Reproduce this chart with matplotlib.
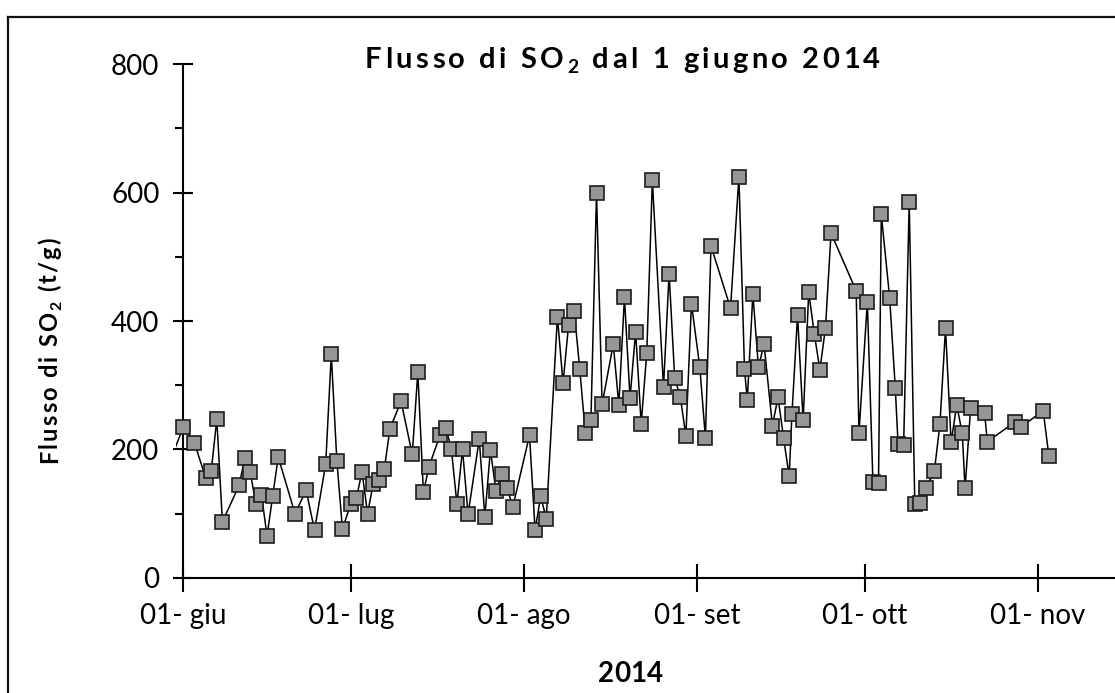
import numpy as np
import pandas as pd
import matplotlib
matplotlib.use("Agg")
import matplotlib.pyplot as plt
import matplotlib.dates as mdates
from matplotlib.font_manager import FontProperties

# ---------------- data (days since 1 June 2014, SO2 flux t/g) ----------------
days = [-2, 0, 2, 4, 5, 6, 7, 10, 11, 12, 13, 14, 15, 16, 17, 20, 22, 23.5, 25.5,
        26.5, 27.5, 28.5, 30, 31, 32, 33, 34, 35, 36, 37, 39, 41, 42, 43, 44, 46,
        47, 48, 49, 50, 51, 53, 54, 55, 56, 57, 58, 59, 62, 63, 64, 65, 67, 68,
        69, 70, 71, 72, 73, 74, 75, 77, 78, 79, 80, 81, 82, 83, 84, 86, 87, 88,
        89, 90, 91, 92.5, 93.5, 94.5, 98, 99.5, 100.5, 101, 102, 103, 104, 105.5,
        106.5, 107.5, 108.5, 109, 110, 111, 112, 113, 114, 115, 116, 120.5, 121,
        122.5, 123.5, 124.5, 125, 126.5, 127.5, 128, 129, 130, 131, 132, 133,
        134.5, 135.5, 136.5, 137.5, 138.5, 139.5, 140, 141, 143.5, 144, 149, 150,
        154, 155]
flux = [190, 235, 210, 156, 166, 247, 87, 144, 186, 164, 115, 129, 65, 127, 188,
        100, 136, 74, 177, 348, 182, 76, 115, 124, 165, 100, 146, 152, 169, 232,
        275, 192, 320, 133, 173, 223, 234, 201, 115, 200, 99, 216, 95, 199, 135,
        161, 140, 110, 222, 74, 127, 92, 407, 303, 394, 416, 325, 225, 245, 600,
        270, 364, 269, 437, 280, 383, 240, 350, 619, 297, 474, 311, 282, 221, 427,
        328, 218, 517, 420, 625, 325, 277, 442, 328, 364, 237, 281, 218, 158, 255,
        409, 245, 445, 380, 324, 389, 537, 447, 225, 430, 149, 148, 566, 436, 296,
        209, 206, 586, 115, 117, 140, 166, 239, 389, 211, 269, 225, 139, 265, 256,
        212, 243, 235, 260, 190]

start_date = "2014-06-01"
tick_dates = ["2014-06-01", "2014-07-01", "2014-08-01", "2014-09-01",
              "2014-10-01", "2014-11-01"]
tick_labels = ["01- giu", "01- lug", "01- ago", "01- set", "01- ott", "01- nov"]
y_major = [0, 200, 400, 600, 800]
y_minor = [100, 300, 500, 700]
title_parts = [("Flusso di SO", False), ("2", True), (" dal 1 giugno 2014", False)]
ylabel_parts = [("Flusso di SO", False), ("2", True), (" (t/g)", False)]
xlabel_parts = [("2014", False)]

# ---------------- figure ----------------
W, H = 1115, 693
fig = plt.figure(figsize=(W / 100, H / 100), dpi=100)
fig.patch.set_facecolor("white")

FONT = "Lato"
x0 = mdates.date2num(pd.Timestamp(start_date))
px_per_day = 5.584
axis_px = 183.3
left_days, right_days = -1.3, 170
ax_left = axis_px + left_days * px_per_day
ax_right = axis_px + right_days * px_per_day
y_bottom_px, y_top_px = 577.7, 64.3
ax = fig.add_axes([ax_left / W, (H - y_bottom_px) / H,
                   (ax_right - ax_left) / W, (y_bottom_px - y_top_px) / H])
ax.set_xlim(x0 + left_days, x0 + right_days)
ax.set_ylim(0, 800)

dates = pd.Timestamp(start_date) + pd.to_timedelta(days, unit="D")
xd = mdates.date2num(dates)
fl = np.array(flux, dtype=float)
ax.plot(xd, fl, "-", color="black", lw=1.1, zorder=2, clip_on=True)
vis = np.array(days) >= 0
ax.plot(xd[vis], fl[vis], "s", ms=9.6, mfc="#969696", mec="#1c1c1c", mew=1.2,
        ls="none", zorder=3, clip_on=False)

for s in ["top", "right"]:
    ax.spines[s].set_visible(False)
ax.spines["left"].set_position(("data", x0))
ax.spines["bottom"].set_bounds(x0, x0 + right_days)
for s in ["left", "bottom"]:
    ax.spines[s].set_linewidth(1.5)
    ax.spines[s].set_color("black")

ax.set_xticks(mdates.date2num(pd.to_datetime(tick_dates)))
ax.set_xticklabels(tick_labels)
ax.set_yticks(y_major)
ax.set_yticks(y_minor, minor=True)
ax.xaxis.set_minor_locator(matplotlib.ticker.NullLocator())
ax.tick_params(axis="x", which="major", direction="inout", length=20, width=1.5,
               pad=8, labelsize=20)
ax.tick_params(axis="y", which="major", direction="inout", length=14.4, width=1.5,
               pad=10, labelsize=20)
ax.tick_params(axis="y", which="minor", direction="out", length=5.8, width=1.5)
for lab in ax.get_xticklabels() + ax.get_yticklabels():
    lab.set_fontfamily(FONT)

# ---------------- frame (chart border, cropped on right/bottom) ----------------
fig.add_artist(plt.Line2D([8.3 / W, 8.3 / W], [0, 1 - 16.7 / H],
                          transform=fig.transFigure, color="#111", lw=1.6))
fig.add_artist(plt.Line2D([8.3 / W, 1.0], [1 - 16.7 / H, 1 - 16.7 / H],
                          transform=fig.transFigure, color="#111", lw=1.6))

# ---------------- tracked text helper ----------------
renderer = fig.canvas.get_renderer()


def adv(ch, prop):
    w1, _, _ = renderer.get_text_width_height_descent("H" + ch + "H", prop, ismath=False)
    w0, _, _ = renderer.get_text_width_height_descent("HH", prop, ismath=False)
    return w1 - w0


def tracked(parts, start_px, base_px, size, target_len, rotation=0, weight="bold"):
    items = []
    for txt, sub in parts:
        sz = size * 0.66 if sub else size
        prop = FontProperties(family=FONT, weight=weight, size=sz)
        for ch in txt:
            items.append((ch, prop, sub, adv(ch, prop)))
    natural = sum(i[3] for i in items)
    track = (target_len - natural) / max(len(items) - 1, 1)
    pos = 0.0
    sub_shift = size * 100 / 72 * 0.18
    for ch, prop, sub, a in items:
        if rotation == 0:
            x = start_px + pos
            y = base_px + (sub_shift if sub else 0)
        else:
            x = base_px + (sub_shift if sub else 0)
            y = start_px - pos
        fig.text(x / W, 1 - y / H, ch, fontproperties=prop, ha="left",
                 va="baseline", rotation=rotation, rotation_mode="anchor")
        pos += a + track


tracked(title_parts, 365, 68, 21, 515)
tracked(ylabel_parts, 463, 57, 17, 225, rotation=90)
tracked(xlabel_parts, 598, 682, 20, 65)

fig.savefig("out.png", dpi=100)
